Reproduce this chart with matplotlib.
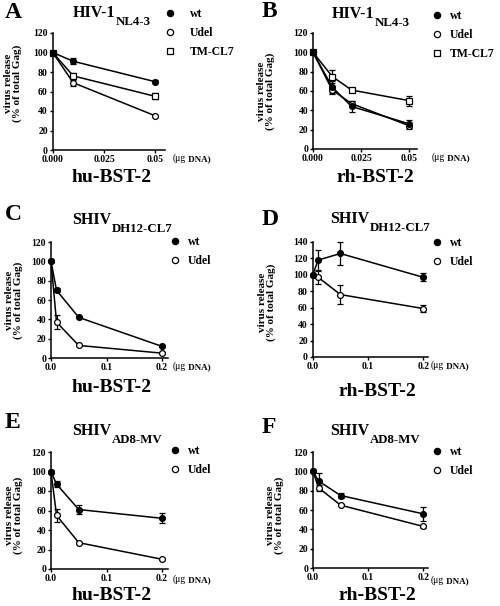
import matplotlib
matplotlib.use("Agg")
import matplotlib.pyplot as plt
from matplotlib.lines import Line2D

plt.rcParams['font.family'] = ['Liberation Serif', 'DejaVu Serif']
plt.rcParams['font.weight'] = 'bold'

W, H = 500, 606

# ---- data ----
xA = [0, 0.01, 0.05]
A_wt = [100, 91, 70];   A_wt_err = [0, 3, 1.5]
A_ud = [100, 69, 35];   A_ud_err = [0, 3, 1]
A_tm = [100, 76, 55];   A_tm_err = [0, 3, 3]

xB = [0, 0.01, 0.02, 0.05]
B_wt = [100, 64, 44, 26]; B_wt_err = [0, 6, 6, 4]
B_ud = [100, 61, 47, 24]; B_ud_err = [0, 4, 3, 3]
B_tm = [100, 75, 61, 50]; B_tm_err = [0, 7, 2, 5]

xCF = [0, 0.01, 0.05, 0.2]
C_wt = [100, 70, 42, 12];  C_wt_err = [0, 2, 1, 1]
C_ud = [100, 37, 13, 5];   C_ud_err = [0, 7, 1, 1]
D_wt = [100, 118, 126, 97]; D_wt_err = [0, 12, 14, 5]
D_ud = [100, 97, 76, 59];   D_ud_err = [0, 8, 12, 4]
E_wt = [100, 87, 61, 52];  E_wt_err = [0, 3, 5, 5]
E_ud = [100, 55, 27, 10];  E_ud_err = [0, 7, 1, 1]
F_wt = [100, 90, 75, 56];  F_wt_err = [0, 8, 3, 7]
F_ud = [100, 83, 65, 43];  F_ud_err = [0, 3, 1, 2]

ticksA = [0, 0.025, 0.05]; ticklabA = ['0.000', '0.025', '0.05']
ticksC = [0, 0.1, 0.2];    ticklabC = ['0.0', '0.1', '0.2']

fig = plt.figure(figsize=(W / 100, H / 100), dpi=100)


def fx(px):
    return px / W


def fy(py):
    return 1 - py / H


STY = {'wt': dict(marker='o', mfc='black'),
       'Udel': dict(marker='o', mfc='white'),
       'TM-CL7': dict(marker='s', mfc='white')}


def panel(left, right, y0, ytop, xmax, ymax, x, series, ticks, ticklabs,
          letter, lpos, title, sub, tpos, leg, legpos, xlab, xlpos,
          ylpos, dnapos):
    ax = fig.add_axes([fx(left), fy(y0), (right - left) / W, (y0 - ytop) / H])
    for name, y, e in series:
        st = STY[name]
        ax.errorbar(x, y, yerr=e, color='black', lw=1.1, elinewidth=0.9,
                    capsize=2.2, capthick=0.9, marker=st['marker'],
                    mfc=st['mfc'], mec='black', mew=0.9, ms=4.2,
                    clip_on=False, zorder=3)
    ax.set_xlim(0, xmax)
    ax.set_ylim(0, ymax)
    ax.set_xticks(ticks)
    ax.set_xticklabels(ticklabs)
    ax.set_yticks(range(0, ymax + 1, 20))
    for s in ['top', 'right']:
        ax.spines[s].set_visible(False)
    for s in ['left', 'bottom']:
        ax.spines[s].set_linewidth(1.1)
    ax.tick_params(direction='out', length=2.5, width=1.0, pad=1,
                   labelsize=7)
    for t in ax.get_xticklabels() + ax.get_yticklabels():
        t.set_fontweight('bold')
    # panel letter
    fig.text(fx(lpos[0]), fy(lpos[1]), letter, fontsize=17,
             fontweight='bold', va='baseline', ha='left')
    # title with subscript
    tt = fig.text(fx(tpos[0]), fy(tpos[1]), title, fontsize=11.5,
                  fontweight='bold', va='baseline', ha='left')
    ax.annotate(sub, xy=(1, 0), xycoords=tt, xytext=(0.3, -2.6),
                textcoords='offset points', fontsize=9.3, fontweight='bold',
                va='baseline', ha='left', annotation_clip=False)
    # legend
    handles = [Line2D([], [], ls='none', color='black', mec='black', mew=0.9,
                      ms=4.5, marker=STY[n]['marker'], mfc=STY[n]['mfc'])
               for n in leg]
    fig.legend(handles, leg, loc='upper left',
               bbox_to_anchor=(fx(legpos[0]), fy(legpos[1])),
               frameon=False, handlelength=0.6, handletextpad=legpos[2],
               borderpad=0, borderaxespad=0, labelspacing=0.6,
               prop=dict(size=8.5, weight='bold'))
    # labels
    fig.text(fx(xlpos[0]), fy(xlpos[1]), xlab, fontsize=14,
             fontweight='bold', ha='center', va='center')
    fig.text(fx(ylpos[0]), fy(ylpos[1]), 'virus release\n(% of total Gag)',
             fontsize=8, fontweight='bold', rotation=90, ha='center',
             va='center', linespacing=1.05, multialignment='center')
    ug = fig.text(fx(dnapos[0]), fy(dnapos[1]), '(\u03bcg', fontsize=7,
                  fontweight='normal', ha='left', va='baseline')
    ax.annotate(' DNA)', xy=(1, 0), xycoords=ug, xytext=(0, 1.5),
                textcoords='offset points', fontsize=6.5, fontweight='bold',
                va='baseline', ha='left', annotation_clip=False)
    return ax


panel(52.7, 165, 150, 33, 0.0547, 120, xA,
      [('TM-CL7', A_tm, A_tm_err), ('Udel', A_ud, A_ud_err),
       ('wt', A_wt, A_wt_err)],
      ticksA, ticklabA, 'A', (5, 18), 'HIV-1', 'NL4-3', (73, 17),
      ['wt', 'Udel', 'TM-CL7'], (166, 8, 1.4), 'hu-BST-2', (112, 178),
      (13, 83), (173, 161))

panel(313, 417, 149, 33, 0.054, 120, xB,
      [('TM-CL7', B_tm, B_tm_err), ('Udel', B_ud, B_ud_err),
       ('wt', B_wt, B_wt_err)],
      ticksA, ticklabA, 'B', (262, 17), 'HIV-1', 'NL4-3', (332, 18),
      ['wt', 'Udel', 'TM-CL7'], (433, 10, 0.8), 'rh-BST-2', (375, 178),
      (266, 91), (432, 160))

panel(51, 168, 358, 242, 0.2108, 120, xCF,
      [('Udel', C_ud, C_ud_err), ('wt', C_wt, C_wt_err)],
      ticksC, ticklabC, 'C', (5, 220), 'SHIV', 'DH12-CL7', (72, 224),
      ['wt', 'Udel'], (171, 236, 0.8), 'hu-BST-2', (112, 388),
      (14, 300), (173, 369))

panel(312.7, 428, 357, 242, 0.2085, 140, xCF,
      [('Udel', D_ud, D_ud_err), ('wt', D_wt, D_wt_err)],
      ticksC, ticklabC, 'D', (262, 225), 'SHIV', 'DH12-CL7', (330, 223),
      ['wt', 'Udel'], (433, 237, 0.8), 'rh-BST-2', (377, 391),
      (267, 302), (431, 368))

panel(51, 168, 569, 452, 0.2108, 120, xCF,
      [('Udel', E_ud, E_ud_err), ('wt', E_wt, E_wt_err)],
      ticksC, ticklabC, 'E', (5, 428), 'SHIV', 'AD8-MV', (72, 435),
      ['wt', 'Udel'], (171, 445, 0.8), 'hu-BST-2', (112, 596),
      (14, 515), (173, 582))

panel(313, 428, 568, 452, 0.2085, 120, xCF,
      [('Udel', F_ud, F_ud_err), ('wt', F_wt, F_wt_err)],
      ticksC, ticklabC, 'F', (262, 433), 'SHIV', 'AD8-MV', (330, 435),
      ['wt', 'Udel'], (433, 446, 0.8), 'rh-BST-2', (377, 596),
      (275, 515), (431, 583))

fig.savefig('out.png', dpi=100)
